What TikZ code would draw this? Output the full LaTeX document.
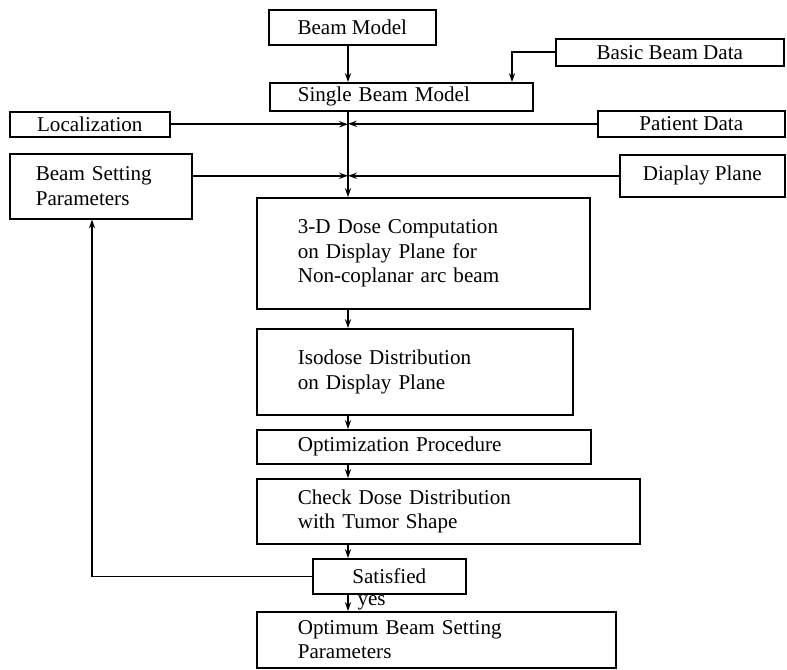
\documentclass[tikz,border=0pt]{standalone}
\usepackage{fontspec}
\setmainfont{Liberation Serif}
\usetikzlibrary{arrows.meta}

\tikzset{
  box/.style={draw, line width=0.9pt, anchor=north west, inner ysep=0pt,
    font=\fontsize{12}{14}\selectfont},
  cbox/.style={box, align=center, inner xsep=0pt},
  lbox/.style={box, align=left, inner xsep=0.82cm},
  wire/.style={line width=0.9pt},
  link/.style={wire, -{Stealth[length=5pt,width=3.5pt]}}
}

\begin{document}
\begin{tikzpicture}[x=0.02cm, y=-0.02cm]
  \useasboundingbox (0,0) rectangle (787,669);
  \coordinate (spine) at (348,0);
  \coordinate (back) at (92,0);
  \coordinate (bend) at (512,0);

  % inputs
  \node (bm) [cbox, minimum width=3.34cm, minimum height=0.70cm] at (268,9) {Beam Model};
  \node (bbd) [cbox, minimum width=4.56cm, minimum height=0.54cm] at (555,38) {Basic Beam Data};
  \node (sbm) [box, align=left, inner xsep=0.56cm, text width=4.14cm, minimum height=0.56cm] at (269,82) {Single Beam Model};
  \node (loc) [cbox, minimum width=3.20cm, minimum height=0.50cm] at (9,111) {Localization};
  \node (pd) [cbox, minimum width=3.74cm, minimum height=0.52cm] at (597,110) {Patient Data};
  \node (bsp) [box, align=left, inner xsep=0.52cm, text width=2.60cm, minimum height=1.30cm] at (9,153) {Beam Setting\\Parameters};
  \node (dp) [cbox, minimum width=3.30cm, minimum height=0.84cm] at (619,154) {Diaplay Plane};

  % main column
  \node (dose) [lbox, text width=5.02cm, minimum height=2.22cm] at (256,197) {3-D Dose Computation\\on Display Plane for\\Non-coplanar arc beam};
  \node (iso) [lbox, text width=4.68cm, minimum height=1.72cm] at (256,328) {Isodose Distribution\\on Display Plane};
  \node (opt) [lbox, text width=5.04cm, minimum height=0.68cm] at (256,429) {Optimization Procedure};
  \node (chk) [lbox, text width=6.02cm, minimum height=1.30cm] at (256,478) {Check Dose Distribution\\with Tumor Shape};
  \node (sat) [cbox, minimum width=3.06cm, minimum height=0.70cm] at (312,558) {Satisfied};
  \node (optm) [lbox, text width=5.54cm, minimum height=1.12cm] at (256,611) {Optimum Beam Setting\\Parameters};

  % connectors
  \draw[link] (bm.south -| spine) -- (sbm.north -| spine);
  \draw[link] (bbd.west) -| (sbm.north -| bend);
  \draw[link] (sbm.south -| spine) -- (dose.north -| spine);
  \draw[link] (loc.east) -- (loc.east -| spine);
  \draw[link] (pd.west) -- (pd.west -| spine);
  \draw[link] (dp.west -| bsp.east) -- (dp.west -| spine);
  \draw[link] (dp.west) -- (dp.west -| spine);
  \draw[link] (dose.south -| spine) -- (iso.north -| spine);
  \draw[link] (iso.south -| spine) -- (opt.north -| spine);
  \draw[link] (opt.south -| spine) -- (chk.north -| spine);
  \draw[link] (chk.south -| spine) -- (sat.north -| spine);
  \draw[link] (sat.west) -| (bsp.south -| back);
  \draw[link] (sat.south -| spine) -- node (yes) [right=5pt, inner sep=0pt, font=\fontsize{12}{14}\selectfont] {yes} (optm.north -| spine);
\end{tikzpicture}
\end{document}
